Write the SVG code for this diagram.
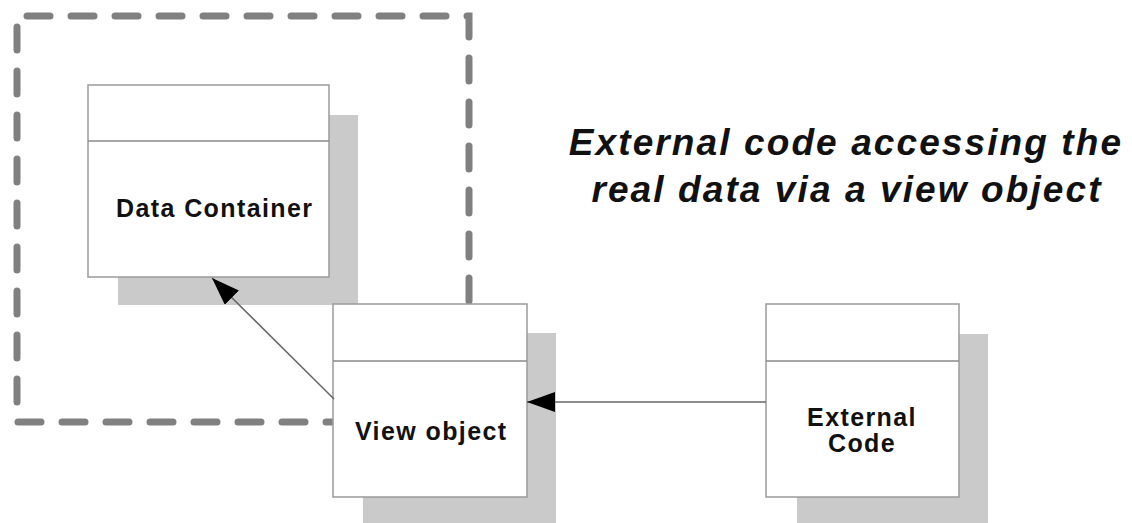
<svg xmlns="http://www.w3.org/2000/svg" width="1132" height="523" viewBox="0 0 1132 523">
<style>
.shadow{fill:#cacaca;stroke:none}
.box{fill:#fff;stroke:#9a9a9a;stroke-width:1.5}
.div{stroke:#8a8a8a;stroke-width:1.5}
.lbl{font-family:"Liberation Sans",Arial,sans-serif;font-weight:bold;font-size:25px;letter-spacing:1.4px;fill:#111}
.title{font-family:"Liberation Sans",Arial,sans-serif;font-weight:bold;font-style:italic;font-size:37px;letter-spacing:2.1px;fill:#111}
.conn{stroke:#666;stroke-width:1.5;fill:none}
</style>
<defs>
<marker id="arrow" viewBox="0 0 28 20" refX="28" refY="10" markerWidth="28" markerHeight="20" markerUnits="userSpaceOnUse" orient="auto">
<path d="M0,0 L28,10 L0,20 z" fill="#000"/>
</marker>
</defs>
<rect width="1132" height="523" fill="#fff"/>
<g id="boundary">
<rect x="17" y="16" width="452" height="406" fill="none" stroke="#808080" stroke-width="7" stroke-linecap="round" stroke-dasharray="23 21" stroke-dashoffset="-10"/>
</g>
<g id="data-container">
<rect class="shadow" x="118" y="115" width="240" height="190"/>
<rect class="box" x="88" y="85" width="241" height="192"/>
<line class="div" x1="88" y1="141" x2="329" y2="141"/>
<text class="lbl" x="116" y="217">Data Container</text>
</g>
<g id="title">
<text class="title" x="846" y="155" text-anchor="middle">External code accessing the</text>
<text class="title" x="847" y="202" text-anchor="middle">real data via a view object</text>
</g>
<g id="view-object">
<rect class="shadow" x="363" y="333" width="193" height="200"/>
<rect class="box" x="333" y="304" width="194" height="193"/>
<line class="div" x1="333" y1="361" x2="527" y2="361"/>
<text class="lbl" x="355" y="440">View object</text>
</g>
<g id="external-code">
<rect class="shadow" x="797" y="334" width="191" height="200"/>
<rect class="box" x="766" y="304" width="193" height="193"/>
<line class="div" x1="766" y1="361" x2="959" y2="361"/>
<text class="lbl" x="862" y="426" text-anchor="middle">External</text>
<text class="lbl" x="862" y="452" text-anchor="middle">Code</text>
</g>
<g id="connectors">
<line class="conn" x1="334" y1="399" x2="212" y2="278" marker-end="url(#arrow)"/>
<line class="conn" x1="766" y1="402" x2="527" y2="402" marker-end="url(#arrow)"/>
</g>
</svg>
